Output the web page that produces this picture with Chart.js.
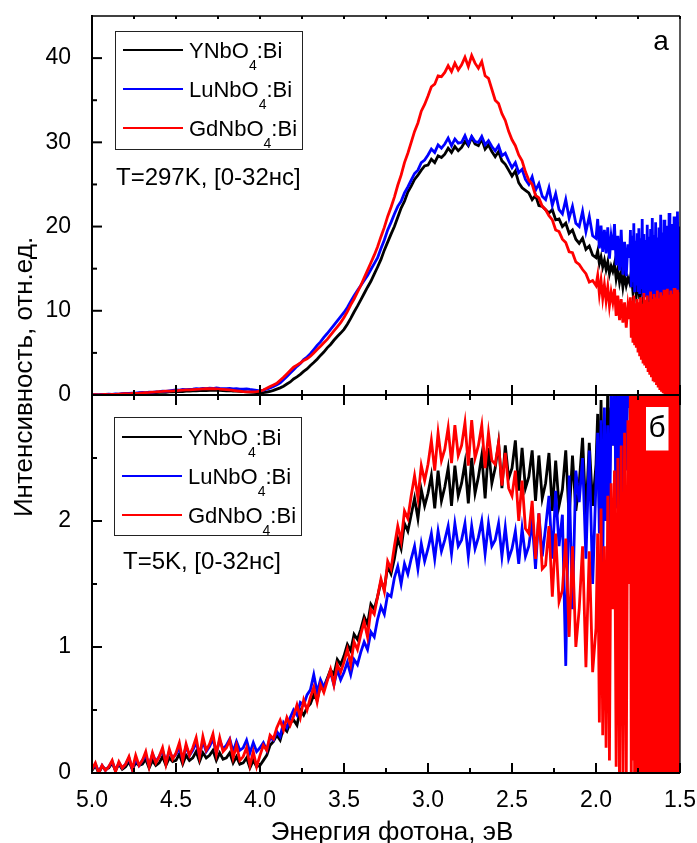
<!DOCTYPE html>
<html><head><meta charset="utf-8">
<script src="https://cdn.jsdelivr.net/npm/chart.js@4.4.1/dist/chart.umd.min.js"></script>
<style>
html,body{margin:0;padding:0;background:#fff;}
#wrap{position:relative;width:697px;height:843px;overflow:hidden;}
canvas{position:absolute;left:0;top:0;}
</style></head><body>
<div id="wrap"><canvas id="cb" width="697" height="843"></canvas><canvas id="ca" width="697" height="843"></canvas></div>
<script>
// ---------- DATA ----------
const energyEV = [
5.00,4.98,4.96,4.94,4.92, 4.90,4.88,4.86,4.84,4.82, 4.80,4.78,4.76,4.74,4.72, 4.70,4.68,4.66,4.64,4.62, 4.60,4.58,4.56,4.54,4.52,
4.50,4.48,4.46,4.44,4.42, 4.40,4.38,4.36,4.34,4.32, 4.30,4.28,4.26,4.24,4.22, 4.20,4.18,4.16,4.14,4.12, 4.10,4.08,4.06,4.04,4.02,
4.00,3.98,3.96,3.94,3.92, 3.90,3.88,3.86,3.84,3.82, 3.80,3.78,3.76,3.74,3.72, 3.70,3.68,3.66,3.64,3.62, 3.60,3.58,3.56,3.54,3.52,
3.50,3.48,3.46,3.44,3.42, 3.40,3.38,3.36,3.34,3.32, 3.30,3.28,3.26,3.24,3.22, 3.20,3.18,3.16,3.14,3.12, 3.10,3.08,3.06,3.04,3.02,
3.00,2.98,2.96,2.94,2.92, 2.90,2.88,2.86,2.84,2.82, 2.80,2.78,2.76,2.74,2.72, 2.70,2.68,2.66,2.64,2.62, 2.60,2.58,2.56,2.54,2.52,
2.50,2.48,2.46,2.44,2.42, 2.40,2.38,2.36,2.34,2.32, 2.30,2.28,2.26,2.24,2.22, 2.20,2.18,2.16,2.14,2.12, 2.10,2.08,2.06,2.04,2.02,
2.00,1.99,1.98,1.97,1.96,1.95,1.94,1.93,1.92,1.91,
1.90,1.89,1.88,1.87,1.86,1.85,1.84,1.83,1.82,1.81,
1.80,1.79,1.78,1.77,1.76,1.75,1.74,1.73,1.72,1.71,
1.70,1.69,1.68,1.67,1.66,1.65,1.64,1.63,1.62,1.61,
1.60,1.59,1.58,1.57,1.56,1.55,1.54,1.53,1.52,1.51,
1.50];
// finer sampling of the noisy tails (1.800 ... 1.500 eV)
const energyFineTail = [
1.800,1.795,1.790,1.785,1.780,1.775,1.770,1.765,1.760,1.755,
1.750,1.745,1.740,1.735,1.730,1.725,1.720,1.715,1.710,1.705,
1.700,1.695,1.690,1.685,1.680,1.675,1.670,1.665,1.660,1.655,
1.650,1.645,1.640,1.635,1.630,1.625,1.620,1.615,1.610,1.605,
1.600,1.595,1.590,1.585,1.580,1.575,1.570,1.565,1.560,1.555,
1.550,1.545,1.540,1.535,1.530,1.525,1.520,1.515,1.510,1.505,
1.500];

// T = 297 K (panel а)
const roomY = [
0.00,0.02,0.01,0.04,0.03, 0.05,0.04,0.07,0.06,0.09, 0.10,0.12,0.11,0.15,0.17, 0.20,0.18,0.24,0.22,0.27, 0.30,0.33,0.31,0.36,0.38,
0.40,0.43,0.41,0.47,0.45, 0.50,0.48,0.53,0.55,0.52, 0.56,0.54,0.58,0.55,0.52, 0.50,0.52,0.47,0.45,0.42, 0.40,0.37,0.35,0.30,0.28,
0.25,0.28,0.33,0.42,0.55, 0.70,0.85,1.05,1.30,1.55, 1.90,2.15,2.45,2.80,3.10, 3.50,3.85,4.25,4.70,5.10, 5.60,6.00,6.50,6.95,7.35,
7.80,8.40,9.10,9.85,10.55, 11.30,12.05,12.80,13.50,14.35, 15.20,16.10,17.20,18.15,19.10, 20.00,21.10,22.20,23.00,24.10, 24.80,25.60,26.10,26.70,27.20,
27.30,28.00,27.60,28.40,28.20, 28.60,29.30,28.80,29.50,29.00, 29.40,30.10,29.60,30.60,29.80, 29.60,30.40,29.20,29.70,28.90, 28.30,28.90,27.80,27.40,26.70,
26.00,26.60,25.20,24.60,24.30, 24.00,23.20,23.70,22.50,22.40, 22.00,21.60,22.00,20.80,20.90, 20.00,20.40,19.20,19.60,18.50, 18.00,18.60,17.30,17.70,16.60,
16.3,17.1,15.6,16.4,15.2,16.0,14.9,15.8,14.4,15.3,
14.7,15.6,13.8,14.9,13.4,14.5,12.8,14.2,13.0,13.9,
13.3,14.6,12.2,13.8,11.8,13.6,11.4,14.0,11.6,13.2,
12.5,14.2,10.8,13.5,10.9,14.4,10.6,13.1,11.2,13.8,
12.0,14.6,9.8,13.4,10.5,15.2,9.9,13.7,20.5,14.8,
12.0];
// LuNbO4:Bi, 297 K, 5.00 ... 1.81 eV
const roomLu = [
0.00,0.04,0.02,0.06,0.08, 0.10,0.08,0.13,0.11,0.16, 0.20,0.18,0.23,0.21,0.27, 0.30,0.28,0.34,0.32,0.37, 0.40,0.45,0.43,0.50,0.55,
0.60,0.58,0.65,0.63,0.68, 0.70,0.74,0.72,0.78,0.76, 0.80,0.77,0.83,0.79,0.76, 0.75,0.78,0.72,0.74,0.70, 0.70,0.73,0.66,0.62,0.56,
0.50,0.58,0.70,0.85,1.00, 1.20,1.45,1.80,2.20,2.60, 3.00,3.40,3.75,4.20,4.50, 4.90,5.40,5.90,6.30,6.85, 7.30,7.80,8.30,8.80,9.30,
9.80,10.40,11.10,11.80,12.40, 13.00,13.60,14.20,14.90,15.60, 16.30,17.40,18.40,19.60,20.50, 21.50,22.40,23.00,24.00,24.70, 25.50,26.30,26.70,27.60,27.90,
28.50,29.20,28.80,29.70,29.30, 29.80,30.50,29.60,30.40,29.90, 30.00,30.80,29.80,30.70,30.10, 30.00,30.70,29.70,30.20,29.50, 29.00,29.60,28.40,28.70,27.80,
27.00,27.60,26.40,26.80,25.60, 25.00,25.90,24.30,25.10,23.60, 23.20,24.60,22.50,23.90,22.00, 21.50,23.20,21.00,22.40,20.40, 20.00,21.80,19.40,21.20,18.90,
18.6,20.9,17.4,20.1,17.0,19.6,16.8,19.9,16.2,18.8,
17.2,20.3,15.4,18.9,14.8,19.6,14.3,18.2,14.1,17.9];
// LuNbO4:Bi, 297 K, on energyFineTail
const roomLuTail = [
16.3,19.6,12.8,18.9,13.4,20.4,12.2,18.3,13.0,19.2,
12.4,19.8,12.0,18.6,12.6,20.9,11.8,19.1,12.3,18.4,
11.6,20.2,11.4,18.8,12.1,19.7,11.2,21.0,11.8,19.0,
11.1,20.5,11.6,18.7,10.9,19.9,11.3,21.4,10.8,19.3,
11.0,20.8,10.7,19.0,11.4,20.1,10.5,21.6,10.9,19.5,
10.6,20.3,10.4,21.2,10.8,19.6,10.2,21.8,10.6,20.0,
15.0];
// GdNbO4:Bi, 297 K, 5.00 ... 1.81 eV
const roomGd = [
0.00,0.03,0.01,0.04,0.06, 0.05,0.08,0.07,0.11,0.13, 0.15,0.14,0.18,0.20,0.22, 0.25,0.28,0.30,0.33,0.36, 0.40,0.42,0.45,0.47,0.48,
0.50,0.54,0.57,0.60,0.62, 0.65,0.68,0.70,0.73,0.74, 0.75,0.74,0.72,0.70,0.68, 0.65,0.60,0.55,0.50,0.45, 0.40,0.38,0.36,0.37,0.40,
0.45,0.60,0.80,1.00,1.20, 1.40,1.75,2.10,2.50,2.90, 3.30,3.55,3.80,4.10,4.30, 4.60,5.00,5.40,5.80,6.20, 6.60,7.10,7.60,8.10,8.60,
9.20,9.90,10.70,11.40,12.20, 13.00,13.90,14.80,15.70,16.60, 17.60,18.80,19.90,21.20,22.30, 23.50,24.90,26.10,27.60,28.70, 30.00,31.30,32.30,33.70,34.50,
35.50,36.60,36.90,37.90,37.80, 38.30,39.10,38.40,39.40,38.60, 39.20,40.10,39.00,40.30,39.40, 38.80,39.60,37.90,37.60,36.30, 35.00,34.60,33.40,32.60,31.30,
30.30,29.60,28.50,27.80,26.50, 25.50,25.00,23.70,23.40,22.40, 22.00,21.30,20.80,19.60,19.40, 18.50,18.10,17.00,16.90,15.80, 15.50,14.90,14.40,13.40,13.60,
13.0,14.2,12.0,13.6,11.5,13.1,11.2,12.8,10.6,12.2,
11.0,12.6,9.4,11.8,8.9,11.4,8.6,11.0,8.0,10.6];
// GdNbO4:Bi, 297 K, on energyFineTail
const roomGdTail = [
9.0,11.6,6.8,11.2,6.2,11.8,5.9,10.9,5.6,11.4,
5.2,11.0,4.6,11.6,4.2,10.8,3.9,12.1,3.5,11.3,
3.2,11.8,2.9,11.0,2.4,12.3,2.1,11.4,1.8,12.0,
1.5,11.6,1.2,12.4,0.9,11.5,0.6,12.2,0.4,11.8,
0.2,12.5,-0.2,11.7,0.1,12.6,-0.3,11.9,0.0,12.4,
-0.2,12.0,-0.3,12.7,0.1,11.8,-0.3,12.5,-0.2,12.2,
1.0];

// T = 5 K (panel б)
const lowY = [
0.02,0.06,0.00,0.05,0.03, 0.04,0.08,0.02,0.07,0.03, 0.05,0.09,0.03,0.08,0.06, 0.07,0.11,0.04,0.10,0.06, 0.08,0.13,0.06,0.12,0.09,
0.10,0.15,0.07,0.14,0.10, 0.12,0.17,0.09,0.16,0.12, 0.14,0.18,0.10,0.16,0.11, 0.12,0.16,0.08,0.13,0.07, 0.08,0.12,0.04,0.10,0.05,
0.06,0.10,0.14,0.22,0.25, 0.30,0.26,0.36,0.33,0.40, 0.42,0.38,0.50,0.46,0.52, 0.55,0.62,0.58,0.70,0.68, 0.75,0.82,0.78,0.90,0.86,
0.93,1.02,0.97,1.10,1.06, 1.14,1.24,1.18,1.34,1.30, 1.40,1.52,1.46,1.64,1.58, 1.70,1.86,1.78,1.98,1.92, 2.05,2.18,2.02,2.25,2.12,
2.22,2.36,2.10,2.40,2.16, 2.27,2.42,2.12,2.44,2.20, 2.30,2.46,2.14,2.50,2.22, 2.35,2.52,2.18,2.58,2.30, 2.42,2.62,2.26,2.60,2.34,
2.42,2.64,2.24,2.58,2.26, 2.35,2.56,2.16,2.52,2.18, 2.30,2.54,2.08,2.48,2.12, 2.25,2.56,2.02,2.52,2.08, 2.30,2.66,2.04,2.62,2.12,
2.45,2.85,2.10,2.96,2.20,2.80,2.05,3.10,2.30,2.90,
2.60,3.20,2.25,3.30,2.35,3.40,2.40,3.50,2.50,3.40,
2.90,3.50,2.60,3.60,2.70,3.60,2.80,3.70,2.90,3.80,
3.30,3.60,3.20,3.70,3.30,3.80,3.40,3.70,3.50,3.80,
3.50,3.80,3.40,3.90,3.60,3.90,3.50,3.80,3.60,3.90,
3.80];
const lowLu = [
0.03,0.07,0.01,0.06,0.02, 0.05,0.09,0.02,0.08,0.04, 0.07,0.12,0.03,0.11,0.06, 0.10,0.14,0.06,0.15,0.09, 0.13,0.18,0.09,0.17,0.12,
0.15,0.20,0.11,0.21,0.14, 0.18,0.24,0.14,0.25,0.17, 0.21,0.27,0.16,0.26,0.19, 0.22,0.27,0.17,0.25,0.18, 0.20,0.26,0.16,0.24,0.17,
0.20,0.24,0.18,0.28,0.26, 0.33,0.29,0.40,0.36,0.44, 0.50,0.46,0.56,0.54,0.62, 0.66,0.78,0.64,0.74,0.68, 0.74,0.80,0.70,0.82,0.74,
0.80,0.88,0.78,0.90,0.86, 0.96,1.04,0.98,1.12,1.08, 1.22,1.32,1.26,1.42,1.40, 1.55,1.64,1.50,1.66,1.58, 1.70,1.80,1.62,1.82,1.68,
1.78,1.90,1.70,1.92,1.76, 1.85,1.96,1.74,1.98,1.80, 1.85,1.98,1.72,1.96,1.78, 1.87,2.00,1.74,1.98,1.80, 1.85,1.98,1.72,1.95,1.70,
1.78,1.92,1.66,1.94,1.72, 1.80,2.00,1.62,2.06,1.72, 1.95,2.20,1.70,2.24,1.80, 2.05,0.85,2.36,1.30,2.40, 2.15,2.50,1.70,2.56,1.50,
2.30,2.70,1.90,2.80,1.60,2.90,2.00,2.76,1.80,3.00,
2.60,3.10,2.10,3.20,1.90,3.20,2.20,3.30,2.40,3.30,
2.90,3.40,2.50,3.50,2.40,3.50,2.70,3.60,2.80,3.60,
3.20,3.60,3.10,3.70,3.20,3.70,3.30,3.80,3.40,3.80,
3.50,3.80,3.40,3.90,3.50,3.90,3.60,3.80,3.50,3.90,
3.80];
// GdNbO4:Bi at 5 K, 5.00 ... 1.81 eV
const lowGd = [
0.03,0.08,0.00,0.06,0.02, 0.05,0.10,0.01,0.09,0.04, 0.07,0.13,0.03,0.14,0.06, 0.10,0.17,0.05,0.16,0.08, 0.13,0.20,0.07,0.19,0.11,
0.16,0.24,0.10,0.23,0.14, 0.20,0.28,0.13,0.29,0.18, 0.23,0.31,0.15,0.28,0.17, 0.20,0.26,0.12,0.22,0.10, 0.13,0.20,0.06,0.17,0.05,
0.14,0.22,0.18,0.30,0.27, 0.36,0.42,0.34,0.44,0.38, 0.45,0.54,0.44,0.58,0.50, 0.60,0.68,0.56,0.70,0.64, 0.73,0.82,0.70,0.86,0.80,
0.88,0.98,0.86,1.04,0.98, 1.10,1.20,1.08,1.30,1.26, 1.40,1.54,1.44,1.68,1.62, 1.80,1.96,1.84,2.08,2.02, 2.20,2.36,2.18,2.44,2.32,
2.45,2.64,2.40,2.70,2.48, 2.57,2.74,2.46,2.76,2.52, 2.60,2.78,2.44,2.80,2.50, 2.60,2.76,2.42,2.70,2.48, 2.45,2.62,2.28,2.54,2.26,
2.20,2.40,2.00,2.32,1.94, 1.90,2.16,1.70,2.06,1.62, 1.65,1.96,1.40,1.90,1.36, 1.45,1.86,1.08,1.80,1.00, 1.30,1.80,0.84,1.76,0.80,
1.15,1.90,0.40,2.10,0.30,1.80,0.20,2.20,0.10,2.30,
1.30,2.40,0.05,2.50,-0.10,2.60,0.00,2.70,-0.10,2.80];
// GdNbO4:Bi at 5 K on energyFineTail
const lowGdTail = [
1.50,3.30,-0.20,3.40,0.10,3.50,-0.30,3.20,-0.20,3.60,
-0.40,3.50,-0.30,3.60,-0.40,3.40,-0.30,3.60,-0.40,3.50,
-0.30,3.60,-0.40,3.50,-0.40,3.60,-0.30,3.50,-0.40,3.60,
-0.30,3.50,-0.40,3.60,-0.40,3.50,-0.30,3.60,-0.40,3.50,
-0.40,3.60,-0.30,3.50,-0.40,3.60,-0.40,3.50,-0.30,3.60,
-0.40,3.50,-0.40,3.60,-0.30,3.50,-0.40,3.60,-0.40,3.50,
1.50];

const seriesNames  = ['YNbO4:Bi', 'LuNbO4:Bi', 'GdNbO4:Bi'];
const seriesColors = ['#000000', '#0000ff', '#ff0000'];
const xMajorTicks = [5.0, 4.5, 4.0, 3.5, 3.0, 2.5, 2.0, 1.5];
const xMinorTicks = [4.75, 4.25, 3.75, 3.25, 2.75, 2.25, 1.75];
const topYMajor = [0, 10, 20, 30, 40];
const topYMinor = [5, 15, 25, 35];
const lowYMajor = [0, 1, 2];
const lowYMinor = [0.5, 1.5, 2.5];
const xTitle = 'Энергия фотона, эВ';
const yTitle = 'Интенсивность, отн.ед.';

// ---------- RENDER ----------
const FONT = '"Liberation Sans", Arial, Helvetica, sans-serif';

function pts(xs, ys){ return ys.map((y,i)=>({x:xs[i], y:y})); }
function makeDatasets(pointSets){
  return pointSets.map((p,i)=>({
    label: seriesNames[i], data: p, borderColor: seriesColors[i],
    borderWidth: 2.8, pointRadius: 0, tension: 0, clip: 0, order: 2 - i,
    borderJoinStyle: 'miter'
  }));
}

function drawChem(ctx, txt, x, base, size){
  const parts = txt.split(/(\d+)/);
  let cx = x;
  parts.forEach(p=>{
    if(!p) return;
    if(/^\d+$/.test(p)){
      ctx.font = Math.round(size*0.62) + 'px ' + FONT;
      ctx.fillText(p, cx, base + 12);
    } else {
      ctx.font = size + 'px ' + FONT;
      ctx.fillText(p, cx, base);
    }
    cx += ctx.measureText(p).width;
  });
}

function panelPlugin(cfg){
  return {
    id: 'panel_' + cfg.key,
    afterDatasetsDraw(chart){
      const ctx = chart.ctx, a = chart.chartArea, xs = chart.scales.x, ys = chart.scales.y;
      ctx.save();
      const ln = (x1,y1,x2,y2)=>{ ctx.beginPath(); ctx.moveTo(x1,y1); ctx.lineTo(x2,y2); ctx.stroke(); };
      ctx.strokeStyle = '#000';
      ctx.lineWidth = 1.3;
      ln(a.left, a.top, a.right, a.top);
      ln(a.right, a.top, a.right, a.bottom);
      ctx.lineWidth = 2;
      ln(a.left, a.top - 1, a.left, a.bottom + 1);
      ln(a.left - 1, a.bottom, a.right, a.bottom);
      xMajorTicks.forEach(v=>{ const x = xs.getPixelForValue(v); ln(x, a.bottom, x, a.bottom - 10); ln(x, a.top, x, a.top + cfg.topMajor); });
      xMinorTicks.forEach(v=>{ const x = xs.getPixelForValue(v); ln(x, a.bottom, x, a.bottom - 5); ln(x, a.top, x, a.top + cfg.topMinor); });
      cfg.yMajor.forEach(v=>{ const y = ys.getPixelForValue(v); ln(a.left, y, a.left + 10, y); });
      cfg.yMinor.forEach(v=>{ const y = ys.getPixelForValue(v); ln(a.left, y, a.left + 5, y); });
      const L = cfg.legend;
      ctx.fillStyle = '#fff';
      ctx.fillRect(L.x, L.y, L.w, L.h);
      ctx.strokeStyle = '#222'; ctx.lineWidth = 1;
      ctx.strokeRect(L.x + 0.5, L.y + 0.5, L.w, L.h);
      seriesNames.forEach((n,i)=>{
        const ry = L.rows[i];
        ctx.strokeStyle = seriesColors[i]; ctx.lineWidth = 2;
        ln(L.x + 8, ry, L.x + 68, ry);
        ctx.fillStyle = '#000'; ctx.textAlign = 'left'; ctx.textBaseline = 'alphabetic';
        drawChem(ctx, n, L.x + 74, ry + 8, 22);
      });
      ctx.fillStyle = '#000'; ctx.textAlign = 'left'; ctx.textBaseline = 'alphabetic';
      ctx.font = '24px ' + FONT;
      ctx.fillText(cfg.note, cfg.noteX, cfg.noteY);
      if (cfg.letterBox){
        const b = cfg.letterBox;
        ctx.fillStyle = '#fff'; ctx.fillRect(b.x, b.y, b.w, b.h);
      }
      ctx.fillStyle = '#000'; ctx.textAlign = 'center';
      ctx.font = cfg.letterSize + 'px ' + FONT;
      ctx.fillText(cfg.letter, cfg.letterX, cfg.letterY);
      ctx.font = '26px ' + FONT;
      if (cfg.drawYTitle){
        ctx.save(); ctx.translate(32, 377); ctx.rotate(-Math.PI/2);
        ctx.textAlign = 'center'; ctx.fillText(yTitle, 0, 0); ctx.restore();
      }
      if (cfg.drawXTitle){
        ctx.textAlign = 'center'; ctx.fillText(xTitle, 392, 840);
      }
      ctx.restore();
    }
  };
}

function makeChart(id, pointSets, cfg){
  return new Chart(document.getElementById(id), {
    type: 'line',
    data: { datasets: makeDatasets(pointSets) },
    options: {
      responsive: false, animation: false, events: [],
      layout: { padding: { left: 0, right: 17, top: cfg.padTop, bottom: 0 } },
      plugins: { legend: { display: false }, tooltip: { enabled: false } },
      scales: {
        x: {
          type: 'linear', reverse: true, min: 1.5, max: 5.0,
          grid: { display: false }, border: { display: false },
          ticks: { display: cfg.showX, color: '#000', font: { family: FONT, size: 23 }, padding: 6,
                   maxRotation: 0, autoSkip: false, callback: v => Number(v).toFixed(1) },
          afterBuildTicks: s => { s.ticks = xMajorTicks.map(v => ({ value: v })); },
          afterFit: s => { s.height = cfg.xHeight; s.paddingLeft = 0; s.paddingRight = 0; }
        },
        y: {
          type: 'linear', min: cfg.ymin, max: cfg.ymax,
          grid: { display: false }, border: { display: false },
          ticks: { color: '#000', font: { family: FONT, size: 23 }, padding: 13, callback: v => String(v) },
          afterBuildTicks: s => { s.ticks = cfg.yMajor.map(v => ({ value: v })); },
          afterFit: s => { s.width = 92; s.paddingTop = 0; s.paddingBottom = 0; }
        }
      }
    },
    plugins: [panelPlugin(cfg)]
  });
}

makeChart('cb', [
  pts(energyEV, lowY),
  pts(energyEV, lowLu),
  pts(energyEV, lowGd).concat(pts(energyFineTail, lowGdTail))
], {
  key: 'low', padTop: 395, xHeight: 70, showX: true, ymin: 0, ymax: 3,
  yMajor: lowYMajor, yMinor: lowYMinor, topMajor: 10, topMinor: 5,
  legend: { x: 114, y: 417, w: 187, h: 118, rows: [437, 476, 515] },
  note: 'T=5K, [0-32нс]', noteX: 123, noteY: 569,
  letter: 'б', letterX: 657, letterY: 437, letterSize: 30,
  letterBox: { x: 646, y: 407, w: 22.5, h: 43.5 },
  drawYTitle: false, drawXTitle: true
});
makeChart('ca', [
  pts(energyEV, roomY),
  pts(energyEV, roomLu).concat(pts(energyFineTail, roomLuTail)),
  pts(energyEV, roomGd).concat(pts(energyFineTail, roomGdTail))
], {
  key: 'room', padTop: 16, xHeight: 448, showX: false, ymin: 0, ymax: 45,
  yMajor: topYMajor, yMinor: topYMinor, topMajor: 3, topMinor: 3,
  legend: { x: 115, y: 31, w: 187, h: 118, rows: [50, 89, 128] },
  note: 'T=297K, [0-32нс]', noteX: 116, noteY: 184.5,
  letter: 'а', letterX: 661, letterY: 50, letterSize: 28,
  letterBox: null,
  drawYTitle: true, drawXTitle: false
});
</script>
</body></html>
